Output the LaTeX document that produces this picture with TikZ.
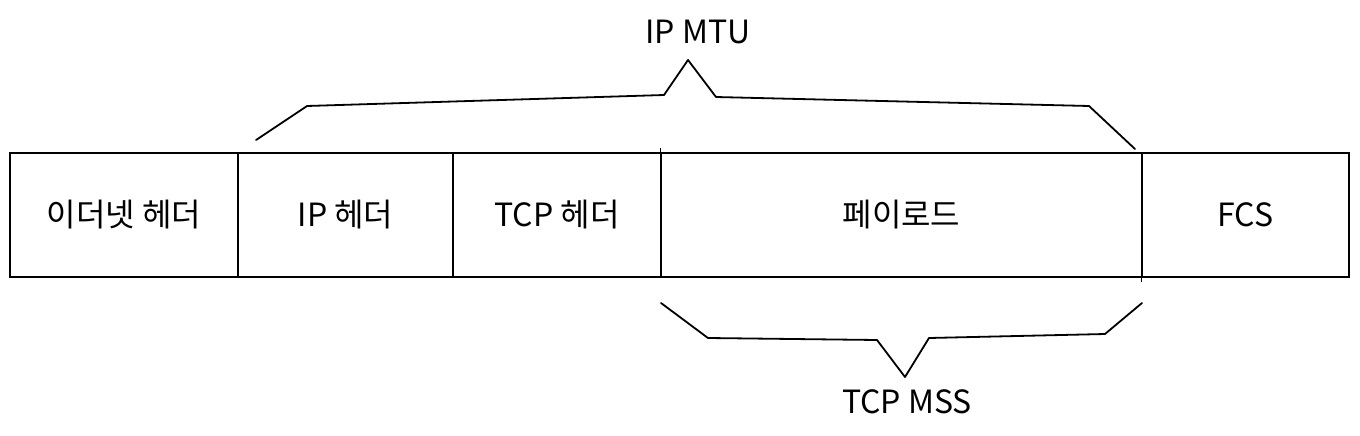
\documentclass[tikz,border=0pt]{standalone}
\usepackage{fontspec}
\setmainfont{Noto Sans CJK KR}
\begin{document}
\begin{tikzpicture}[x=1pt,y=-1pt,
  cell/.style={draw=black,line width=1.6pt,inner sep=0pt,minimum height=124pt,font=\fontsize{32}{36}\selectfont},
  brace/.style={draw=black,line width=1.8pt,line join=round,line cap=round},
  lbl/.style={font=\fontsize{32}{36}\selectfont,inner sep=0pt}]
\useasboundingbox (0,0) rectangle (1360,436);
\fill[white] (0,0) rectangle (1360,436);
\node[cell,minimum width=228pt] (eth) at (124,215) {이더넷 헤더};
\node[cell,minimum width=215pt] (ip) at (345.5,215) {IP 헤더};
\node[cell,minimum width=208pt] (tcp) at (557,215) {TCP 헤더};
\node[cell,minimum width=481pt] (pay) at (901.5,215) {페이로드};
\node[cell,minimum width=207pt] (fcs) at (1245.5,215) {FCS};
% sketchy overhangs
\draw[line width=1.4pt] (pay.north west) -- ++(0,-4);
\draw[line width=1.4pt] (fcs.south west) -- ++(0,4);
% top brace
\coordinate (t1) at (256,140);
\coordinate (t2) at (307,106);
\coordinate (t3) at (664,95);
\coordinate (t4) at (688,60);
\coordinate (t5) at (716,97);
\coordinate (t6) at (1089,106);
\coordinate (t7) at (1135,149);
\draw[brace] (t1) -- (t2) -- (t3) -- (t4) -- (t5) -- (t6) -- (t7);
\node[lbl] (mtu) at (698,32) {IP MTU};
% bottom brace
\coordinate (b1) at (661,303);
\coordinate (b2) at (708,338);
\coordinate (b3) at (877,340);
\coordinate (b4) at (905,377);
\coordinate (b5) at (929,338);
\coordinate (b6) at (1105,334);
\coordinate (b7) at (1142,303);
\draw[brace] (b1) -- (b2) -- (b3) -- (b4) -- (b5) -- (b6) -- (b7);
\node[lbl] (mss) at (907,402) {TCP MSS};
\end{tikzpicture}
\end{document}
